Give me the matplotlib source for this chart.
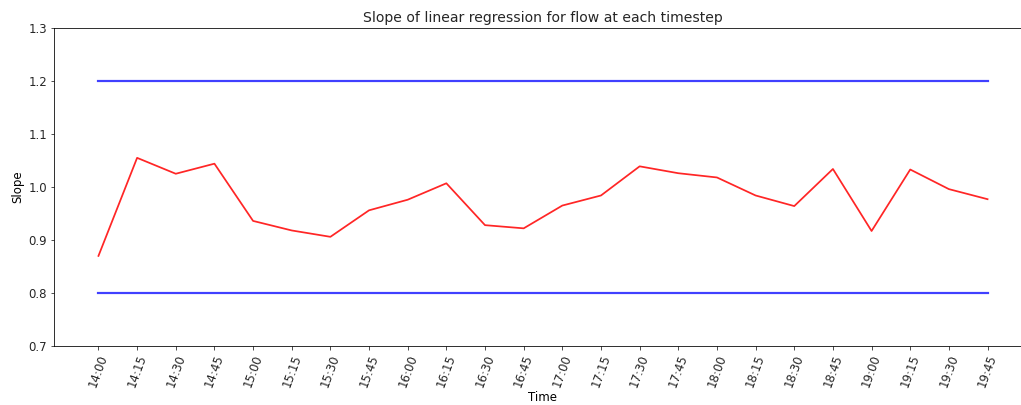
import numpy as np
import matplotlib
matplotlib.use("Agg")
import matplotlib.pyplot as plt

# time labels and slope values
times = ["14:00", "14:15", "14:30", "14:45", "15:00", "15:15", "15:30", "15:45",
         "16:00", "16:15", "16:30", "16:45", "17:00", "17:15", "17:30", "17:45",
         "18:00", "18:15", "18:30", "18:45", "19:00", "19:15", "19:30", "19:45"]
slopes = [0.870, 1.055, 1.025, 1.044, 0.936, 0.918, 0.906, 0.956,
          0.976, 1.007, 0.928, 0.922, 0.965, 0.984, 1.039, 1.026,
          1.018, 0.984, 0.964, 1.034, 0.917, 1.033, 0.996, 0.977]
upper = 1.2
lower = 0.8

plt.rcParams["font.size"] = 11.7
plt.rcParams["text.color"] = "#262626"
plt.rcParams["xtick.color"] = "#262626"
plt.rcParams["ytick.color"] = "#262626"

fig = plt.figure(figsize=(1021 / 72, 405 / 72), dpi=72)
ax = fig.add_axes([54 / 1021, 59 / 405, 978 / 1021, 318 / 405])

x = np.arange(len(times))
ax.plot(x, slopes, color="red", alpha=0.85, linewidth=1.75)
ax.plot(x, [upper] * len(x), color="blue", alpha=0.75, linewidth=2.2)
ax.plot(x, [lower] * len(x), color="blue", alpha=0.75, linewidth=2.2)

ax.set_ylim(0.7, 1.3)
ax.set_xticks(x)
ax.set_xticklabels(times, rotation=70)
ax.set_title("Slope of linear regression for flow at each timestep", fontsize=14)
ax.set_xlabel("Time", labelpad=2)
ax.set_ylabel("Slope")

plt.savefig("out.png", dpi=72)
